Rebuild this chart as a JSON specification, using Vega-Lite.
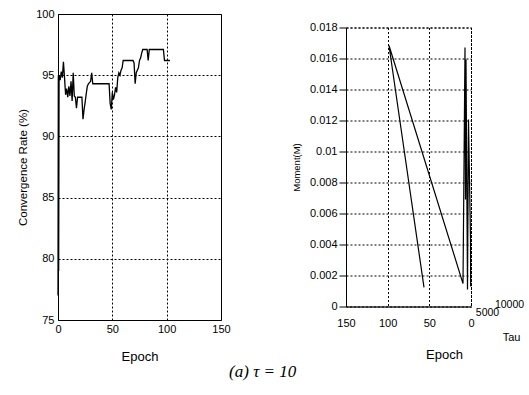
{
  "$schema": "https://vega.github.io/schema/vega-lite/v6.json",
  "padding": {"left": 17, "top": 7, "right": 4, "bottom": 4},
  "background": "white",
  "config": {
    "font": "Liberation Sans",
    "view": {"stroke": "black", "strokeWidth": 1},
    "axis": {
      "labelFont": "Liberation Sans",
      "labelFontSize": 11,
      "labelColor": "black",
      "titleFont": "Liberation Sans",
      "titleColor": "black",
      "titleFontWeight": "normal",
      "gridColor": "black",
      "gridDash": [2, 2],
      "gridOpacity": 1,
      "gridWidth": 1,
      "domainColor": "black",
      "tickColor": "black",
      "labelFlush": false
    }
  },
  "title": {
    "text": "(a) τ = 10",
    "orient": "bottom",
    "anchor": "middle",
    "font": "Liberation Serif",
    "fontStyle": "italic",
    "fontWeight": "normal",
    "fontSize": 17,
    "color": "black",
    "offset": 0,
    "dx": -8
  },
  "bounds": "flush",
  "center": true,
  "spacing": 125,
  "hconcat": [
    {
      "width": 163,
      "height": 306,
      "data": {
        "values": [
          {"epoch": 0, "rate": 77},
          {"epoch": 0.3, "rate": 95},
          {"epoch": 0.6, "rate": 79},
          {"epoch": 1, "rate": 95},
          {"epoch": 2, "rate": 94.6},
          {"epoch": 3, "rate": 95.3},
          {"epoch": 4, "rate": 94.8},
          {"epoch": 5, "rate": 96.1},
          {"epoch": 6, "rate": 94.8},
          {"epoch": 7, "rate": 93.4},
          {"epoch": 8, "rate": 93.9},
          {"epoch": 9, "rate": 93.2},
          {"epoch": 10, "rate": 94.1},
          {"epoch": 11, "rate": 93.3},
          {"epoch": 12, "rate": 94.5},
          {"epoch": 13, "rate": 92.9},
          {"epoch": 14, "rate": 95.2},
          {"epoch": 15, "rate": 93.3},
          {"epoch": 16, "rate": 93.2},
          {"epoch": 17, "rate": 92.3},
          {"epoch": 18, "rate": 93.2},
          {"epoch": 22, "rate": 93.2},
          {"epoch": 23, "rate": 91.4},
          {"epoch": 24, "rate": 92.2},
          {"epoch": 25, "rate": 92.8},
          {"epoch": 26, "rate": 93.5},
          {"epoch": 27, "rate": 94.1},
          {"epoch": 28, "rate": 94.3},
          {"epoch": 30, "rate": 94.5},
          {"epoch": 31, "rate": 95.2},
          {"epoch": 32, "rate": 94.3},
          {"epoch": 47, "rate": 94.3},
          {"epoch": 48, "rate": 92.7},
          {"epoch": 49, "rate": 92.2},
          {"epoch": 50, "rate": 93.6},
          {"epoch": 51, "rate": 93.0},
          {"epoch": 52, "rate": 93.4},
          {"epoch": 53, "rate": 94.0},
          {"epoch": 54, "rate": 93.6},
          {"epoch": 55, "rate": 94.8},
          {"epoch": 56, "rate": 95.2},
          {"epoch": 57, "rate": 95.0},
          {"epoch": 58, "rate": 95.4},
          {"epoch": 59, "rate": 95.6},
          {"epoch": 60, "rate": 96.2},
          {"epoch": 69, "rate": 96.2},
          {"epoch": 70, "rate": 96.0},
          {"epoch": 71, "rate": 94.3},
          {"epoch": 72, "rate": 95.2},
          {"epoch": 73, "rate": 95.4},
          {"epoch": 74, "rate": 95.6},
          {"epoch": 75, "rate": 96.2},
          {"epoch": 76, "rate": 96.4},
          {"epoch": 77, "rate": 96.8},
          {"epoch": 78, "rate": 97.1},
          {"epoch": 82, "rate": 97.1},
          {"epoch": 83, "rate": 96.2},
          {"epoch": 84, "rate": 97.1},
          {"epoch": 97, "rate": 97.1},
          {"epoch": 98, "rate": 96.2},
          {"epoch": 103, "rate": 96.2}
        ]
      },
      "mark": {"type": "line", "color": "black", "strokeWidth": 1.3},
      "encoding": {
        "x": {
          "field": "epoch",
          "type": "quantitative",
          "scale": {"domain": [0, 150], "nice": false},
          "axis": {
            "values": [0, 50, 100, 150],
            "title": "Epoch",
            "titleFontSize": 13,
            "titlePadding": 16,
            "labelPadding": 3,
            "ticks": false,
            "domain": false
          }
        },
        "y": {
          "field": "rate",
          "type": "quantitative",
          "scale": {"domain": [75, 100], "nice": false, "zero": false},
          "axis": {
            "values": [75, 80, 85, 90, 95, 100],
            "title": "Convergence Rate (%)",
            "titleFontSize": 11.5,
            "titlePadding": 7,
            "labelPadding": 4,
            "ticks": false,
            "domain": false
          }
        }
      }
    },
    {
      "width": 125,
      "height": 279,
      "view": {"stroke": "black", "strokeDash": [2, 2]},
      "layer": [
        {
          "data": {
            "values": [
              {"seq": 1, "epoch": 56.4, "moment": 0.00123},
              {"seq": 2, "epoch": 98.4, "moment": 0.01684},
              {"seq": 3, "epoch": 9.6, "moment": 0.00148},
              {"seq": 4, "epoch": 7.2, "moment": 0.01671},
              {"seq": 5, "epoch": 6.6, "moment": 0.0069},
              {"seq": 6, "epoch": 6.0, "moment": 0.01594},
              {"seq": 7, "epoch": 4.2, "moment": 0.0011},
              {"seq": 8, "epoch": 3.0, "moment": 0.01206},
              {"seq": 9, "epoch": 0.6, "moment": 0.00432},
              {"seq": 10, "epoch": 0.4, "moment": 0.00129}
            ]
          },
          "mark": {"type": "line", "color": "black", "strokeWidth": 1.2},
          "encoding": {
            "x": {
              "field": "epoch",
              "type": "quantitative",
              "scale": {"domain": [150, 0], "nice": false},
              "axis": {
                "values": [0, 50, 100, 150],
                "title": "Epoch",
                "titleFontSize": 13,
                "titlePadding": 20,
                "titleX": 98,
                "labelPadding": 11,
                "ticks": false,
                "domain": true
              }
            },
            "y": {
              "field": "moment",
              "type": "quantitative",
              "scale": {"domain": [0, 0.018], "nice": false},
              "axis": {
                "values": [0, 0.002, 0.004, 0.006, 0.008, 0.01, 0.012, 0.014, 0.016, 0.018],
                "format": "~f",
                "title": "Moment(M)",
                "titleFontSize": 9.5,
                "titlePadding": 8,
                "labelPadding": 2,
                "tickSize": 7,
                "ticks": true,
                "domain": true
              }
            },
            "order": {"field": "seq", "type": "quantitative"}
          }
        },
        {
          "data": {"values": [{"tau": 0}, {"tau": 5000}, {"tau": 10000}]},
          "mark": {"type": "point", "opacity": 0},
          "encoding": {
            "x": {
              "field": "tau",
              "type": "quantitative",
              "scale": {"domain": [0, 10000], "range": [119, 163], "nice": false},
              "axis": {
                "orient": "bottom",
                "values": [5000, 10000],
                "format": "d",
                "labelOverlap": false,
                "labelFontSize": 10.5,
                "labelPadding": {"condition": {"test": "datum.value > 6000", "value": -7}, "value": 1},
                "title": "Tau",
                "titleFontSize": 11,
                "titleX": 165,
                "titleY": 31,
                "titleBaseline": "middle",
                "ticks": false,
                "domain": false,
                "grid": false
              }
            }
          }
        }
      ],
      "resolve": {"scale": {"x": "independent"}}
    }
  ]
}
